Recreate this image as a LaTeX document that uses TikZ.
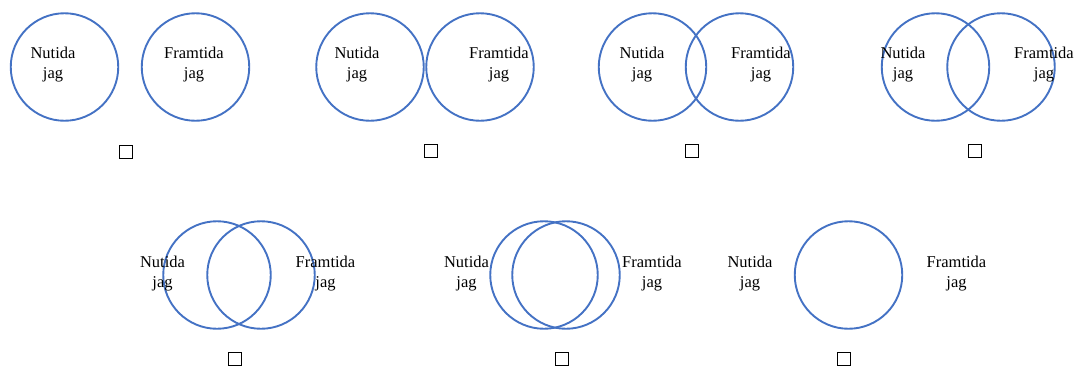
\documentclass[tikz,border=0pt]{standalone}
\usepackage{fontspec}
\setmainfont{Liberation Serif}
\definecolor{ringblue}{RGB}{68,114,196}
\begin{document}
\begin{tikzpicture}[x=1pt,y=-1pt,
  ring/.style={circle,draw=ringblue,line width=1.9pt,minimum size=107.5pt,inner sep=0pt},
  lbl/.style={align=center,inner sep=0pt,font=\fontsize{16.5}{20}\selectfont},
  tick/.style={draw=black,line width=1.4pt,minimum size=13.5pt,inner sep=0pt}]
\useasboundingbox (0,0) rectangle (1075,368);

% Row 1: separate, touching, overlapping, more overlapping
\node[ring] (a1) at (64.5,67) {};
\node[ring] (a2) at (195.5,67) {};
\node[lbl] (an) at (53,65) {Nutida\\jag};
\node[lbl] (af) at (194,65) {Framtida\\jag};
\node[tick] (ab) at (126,152) {};

\node[ring] (b1) at (370,67) {};
\node[ring] (b2) at (480,67) {};
\node[lbl] (bn) at (357,65) {Nutida\\jag};
\node[lbl] (bf) at (499,65) {Framtida\\jag};
\node[tick] (bb) at (431,151) {};

\node[ring] (c1) at (652.5,67) {};
\node[ring] (c2) at (739.5,67) {};
\node[lbl] (cn) at (642,65) {Nutida\\jag};
\node[lbl] (cf) at (761,65) {Framtida\\jag};
\node[tick] (cb) at (692,151) {};

\node[ring] (d1) at (935.5,67) {};
\node[ring] (d2) at (1001,67) {};
\node[lbl] (dn) at (903,65) {Nutida\\jag};
\node[lbl] (df) at (1044,65) {Framtida\\jag};
\node[tick] (db) at (975,151) {};

% Row 2: strong overlap, near coincidence, full merge
\node[ring] (e1) at (217,275) {};
\node[ring] (e2) at (261,275) {};
\node[lbl] (en) at (162.5,273.5) {Nutida\\jag};
\node[lbl] (ef) at (325.5,273.5) {Framtida\\jag};
\node[tick] (eb) at (235,359) {};

\node[ring] (f1) at (544,275) {};
\node[ring] (f2) at (566,275) {};
\node[lbl] (fn) at (466.5,273.5) {Nutida\\jag};
\node[lbl] (ff) at (652,273.5) {Framtida\\jag};
\node[tick] (fb) at (562,359) {};

\node[ring] (g1) at (848.5,275) {};
\node[lbl] (gn) at (750,273.5) {Nutida\\jag};
\node[lbl] (gf) at (956.5,273.5) {Framtida\\jag};
\node[tick] (gb) at (844,359) {};
\end{tikzpicture}
\end{document}
